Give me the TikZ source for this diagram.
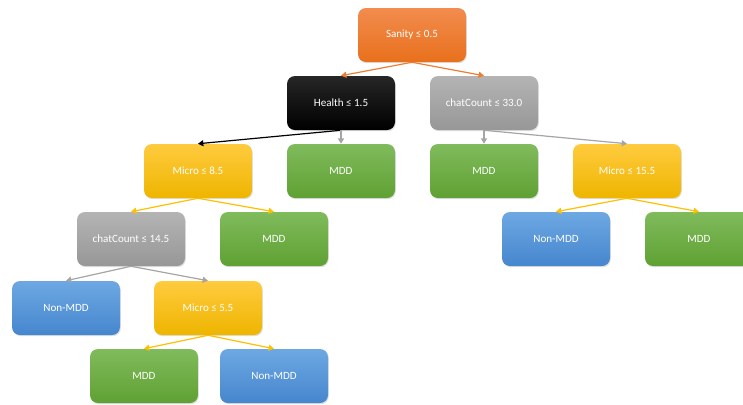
\documentclass[tikz,border=0pt]{standalone}
\usepackage{fontspec}
\setmainfont{Carlito}
\usetikzlibrary{arrows.meta,shadows}
\definecolor{orangeTop}{HTML}{F28C4E}
\definecolor{orangeBot}{HTML}{E8701C}
\definecolor{grayTop}{HTML}{B4B4B4}
\definecolor{grayBot}{HTML}{979797}
\definecolor{yellowTop}{HTML}{FFCB3E}
\definecolor{yellowBot}{HTML}{EEB500}
\definecolor{greenTop}{HTML}{80BB5C}
\definecolor{greenBot}{HTML}{5FA133}
\definecolor{blueTop}{HTML}{6DA8E2}
\definecolor{blueBot}{HTML}{4686CE}
\definecolor{orangeLine}{HTML}{ED7D31}
\definecolor{grayLine}{HTML}{A5A5A5}
\definecolor{yellowLine}{HTML}{FFC000}
\tikzset{box/.style={rounded corners=6pt,align=center,minimum width=81pt,minimum height=40.5pt,
    inner sep=2pt,text=white,font=\fontsize{8.3}{10}\selectfont,
    drop shadow={opacity=0.25,shadow xshift=0.6pt,shadow yshift=-0.9pt}},
  sanitybox/.style={box,top color=orangeTop,bottom color=orangeBot},
  healthbox/.style={box,top color=black!85,bottom color=black},
  chatbox/.style={box,top color=grayTop,bottom color=grayBot},
  microbox/.style={box,top color=yellowTop,bottom color=yellowBot},
  mddbox/.style={box,top color=greenTop,bottom color=greenBot},
  nonbox/.style={box,top color=blueTop,bottom color=blueBot},
  arr/.style={-{Triangle[length=4pt,width=4.5pt]},line width=0.9pt}}

\begin{document}
\begin{tikzpicture}[x=0.75pt,y=-0.75pt]
\useasboundingbox (0,0) rectangle (743,404);
\clip (0,0) rectangle (743,404);
% level 0 and 1
\node[sanitybox] (sanity) at (412,35) {Sanity ≤ 0.5};
\node[healthbox] (health) at (341,103) {Health ≤ 1.5};
\node[chatbox] (chatA) at (484,103) {chatCount ≤ 33.0};
% level 2
\node[microbox] (microA) at (198,171) {Micro ≤ 8.5};
\node[mddbox] (mddA) at (341,171) {MDD};
\node[mddbox] (mddB) at (484,171) {MDD};
\node[microbox] (microB) at (627,171) {Micro ≤ 15.5};
% level 3
\node[chatbox] (chatB) at (131,239) {chatCount ≤ 14.5};
\node[mddbox] (mddC) at (274,239) {MDD};
\node[nonbox] (nonA) at (556,239) {Non-MDD};
\node[mddbox] (mddD) at (699,239) {MDD};
% level 4 and 5
\node[nonbox] (nonB) at (66,308) {Non-MDD};
\node[microbox] (microC) at (208,308) {Micro ≤ 5.5};
\node[mddbox] (mddE) at (144,376) {MDD};
\node[nonbox] (nonC) at (274,376) {Non-MDD};
% branches
\draw[arr,orangeLine] (sanity.south) -- (health.north);
\draw[arr,orangeLine] (sanity.south) -- (chatA.north);
\draw[arr,black] (health.south) -- (microA.north);
\draw[arr,grayLine] (health.south) -- (mddA.north);
\draw[arr,grayLine] (chatA.south) -- (mddB.north);
\draw[arr,grayLine] (chatA.south) -- (microB.north);
\draw[arr,yellowLine] (microA.south) -- (chatB.north);
\draw[arr,yellowLine] (microA.south) -- (mddC.north);
\draw[arr,yellowLine] (microB.south) -- (nonA.north);
\draw[arr,yellowLine] (microB.south) -- (mddD.north);
\draw[arr,grayLine] (chatB.south) -- (nonB.north);
\draw[arr,grayLine] (chatB.south) -- (microC.north);
\draw[arr,yellowLine] (microC.south) -- (mddE.north);
\draw[arr,yellowLine] (microC.south) -- (nonC.north);
\end{tikzpicture}
\end{document}
